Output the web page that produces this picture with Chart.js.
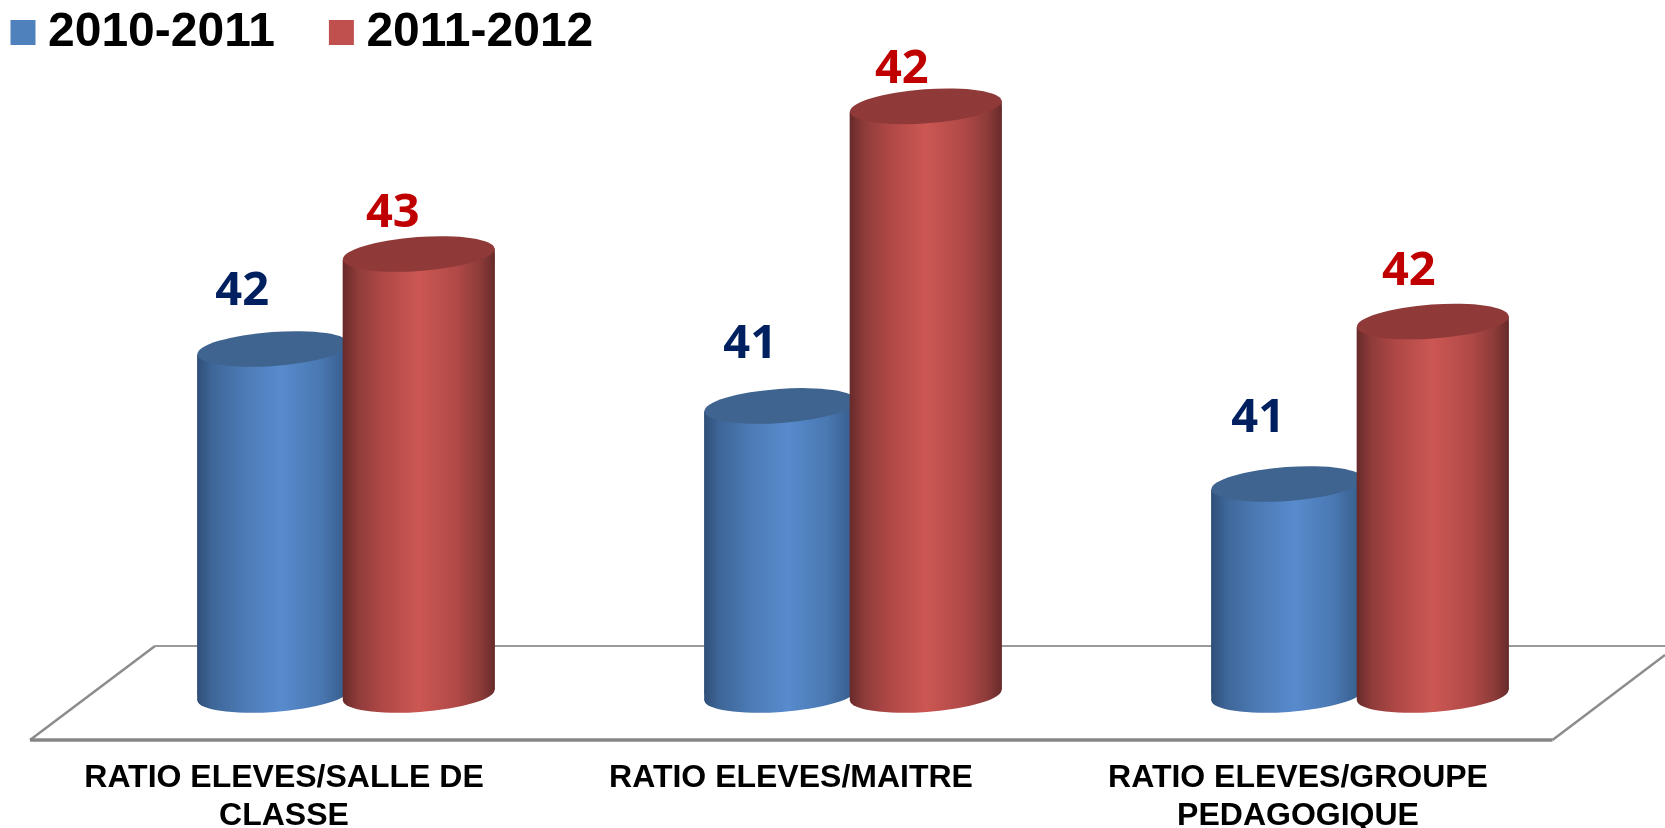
<!DOCTYPE html>
<html><head><meta charset="utf-8">
<style>html,body{margin:0;padding:0;background:#fff}#w{width:1665px;height:828px}</style>
<script src="https://cdn.jsdelivr.net/npm/chart.js@4"></script>
</head><body><div id="w"><canvas id="c" width="1665" height="828"></canvas></div>
<script>
const categories = [['RATIO ELEVES/SALLE DE','CLASSE'],'RATIO ELEVES/MAITRE',['RATIO ELEVES/GROUPE','PEDAGOGIQUE']];
const seriesNames = ['2010-2011','2011-2012'];
const heights2010 = [41.64,41.37,41.0];
const heights2011 = [42.09,42.79,41.77];
const shownLabels2010 = ['42','41','41'];
const shownLabels2011 = ['43','42','42'];

const AXIS_MIN = 40, PX_PER_UNIT = 211, BASE_Y = 695, CAT_PCT = 0.574, BAR_PCT = 1.045;
const stops = [
 [[0,'#2f4f78'],[.1,'#3e6698'],[.3,'#4c7ab5'],[.55,'#588bcd'],[.8,'#4a79b3'],[1,'#355a88']],
 [[0,'#672a29'],[.1,'#8f3c3b'],[.25,'#ad4745'],[.5,'#cc5753'],[.75,'#b04947'],[.9,'#8e3c3a'],[1,'#672b2a']]
];
const capColors = ['#3e648f','#8f3a39'];
const labelColors = ['#002060','#c00000'];
const labelNudge = [[[-31,-57],[-30,-61],[-29,-65]],[[-26,-40],[-24,-37],[-24,-50]]];
const shown = [shownLabels2010,shownLabels2011];

function barFill(ctx){
  const chart = ctx.chart, xs = chart.scales.x;
  if(!xs || xs.width===undefined) return '#888';
  const cw = xs.width/categories.length, slot = cw*CAT_PCT/2, w = slot*BAR_PCT;
  const cx = xs.getPixelForValue(ctx.dataIndex) + (ctx.datasetIndex===0?-.5:.5)*slot;
  const g = chart.ctx.createLinearGradient(cx-w/2,0,cx+w/2,0);
  stops[ctx.datasetIndex].forEach(s=>g.addColorStop(s[0],s[1]));
  return g;
}
const cylinders = {
  id:'cylinders',
  beforeLayout(chart){
    const l = chart.legend;
    if(l && !l._wrapped){ const f = l.fit; l.fit = function(){ f.call(this); this.height = 0; }; l._wrapped = true; }
  },
  afterLayout(chart){ const l = chart.legend; l.left = -43.5; l.top = -57; l.bottom = 80; },
  beforeDatasetsDraw(chart){
    const c = chart.ctx, a = chart.chartArea, front = a.bottom+45, back = a.bottom-49;
    c.save(); c.strokeStyle='#8c8c8c'; c.lineWidth=2.5; c.lineJoin='miter';
    c.beginPath(); c.moveTo(a.right+51.5,back+9); c.lineTo(a.left+1460,front); c.stroke();
    c.beginPath(); c.moveTo(a.left+62.5,back); c.lineTo(a.left-62.5,front); c.stroke();
    c.strokeStyle='#999'; c.lineWidth=2; c.beginPath(); c.moveTo(a.left+62.5,back); c.lineTo(a.right+51.5,back); c.stroke();
    c.strokeStyle='#868686'; c.lineWidth=3.5; c.beginPath(); c.moveTo(a.left-62.5,front); c.lineTo(a.left+1460,front); c.stroke();
    c.restore();
  },
  beforeDatasetDraw(){ return false; },
  afterDatasetsDraw(chart){
    const c = chart.ctx;
    [0,1].forEach(d=>{
      chart.getDatasetMeta(d).data.forEach((el,i)=>{
        const w = el.width, l = el.x-w/2, r = el.x+w/2, top = el.y, base = el.base, dy = 5.5, th = Math.atan2(dy,w/2);
        c.save();
        c.fillStyle = el.options.backgroundColor;
        c.beginPath(); c.ellipse(el.x,base,w/2,17,-th,0,Math.PI*2); c.fill();
        c.beginPath(); c.moveTo(l,top+dy); c.lineTo(r,top-dy); c.lineTo(r,base-dy); c.lineTo(l,base+dy); c.closePath(); c.fill(); c.clip();
        el.draw(c);
        c.restore();
        c.save();
        c.fillStyle = capColors[d];
        c.beginPath(); c.ellipse(el.x,top,w/2,17,-th,0,Math.PI*2); c.fill();
        c.restore();
      });
    });
    [0,1].forEach(d=>{
      chart.getDatasetMeta(d).data.forEach((el,i)=>{
        c.save();
        c.font='bold 47px "Open Sans"'; c.textAlign='center'; c.textBaseline='middle'; c.fillStyle=labelColors[d];
        c.fillText(shown[d][i], el.x+labelNudge[d][i][0], el.y+labelNudge[d][i][1]);
        c.restore();
      });
    });
  }
};
new Chart(document.getElementById('c'),{
  type:'bar',
  data:{labels:categories,datasets:[
    {label:seriesNames[0],data:heights2010,base:AXIS_MIN,backgroundColor:barFill,pointStyle:'rect',borderWidth:0},
    {label:seriesNames[1],data:heights2011,base:AXIS_MIN,backgroundColor:barFill,pointStyle:'rect',borderWidth:0}
  ]},
  options:{
    responsive:false,animation:false,devicePixelRatio:1,
    categoryPercentage:CAT_PCT,barPercentage:BAR_PCT,
    layout:{padding:{left:0,right:51.5,top:0,bottom:0}},
    plugins:{
      tooltip:{enabled:false},
      legend:{display:true,position:'top',align:'start',
        labels:{usePointStyle:true,boxWidth:2,boxHeight:25,padding:65.5,color:'#000',
          font:{family:'"Liberation Sans"',size:48,weight:'bold',lineHeight:1.05},
          generateLabels(chart){
            return seriesNames.map((n,i)=>({text:n,fillStyle:['#4f81bd','#c0504d'][i],strokeStyle:'transparent',lineWidth:0,pointStyle:'rect',datasetIndex:i,fontColor:'#000'}));
          }}}
    },
    scales:{
      x:{grid:{display:false},border:{display:false},
        afterFit(s){s.height=133;},
        ticks:{autoSkip:false,maxRotation:0,minRotation:0,labelOffset:-62,padding:56.5,color:'#000',
          font:{family:'"Liberation Sans"',size:32,weight:'bold',lineHeight:1.19}}},
      y:{min:AXIS_MIN,max:AXIS_MIN+BASE_Y/PX_PER_UNIT,grid:{display:false},border:{display:false},
        ticks:{display:false},afterFit(s){s.width=92.5;}}
    }
  },
  plugins:[cylinders]
});
</script></body></html>
